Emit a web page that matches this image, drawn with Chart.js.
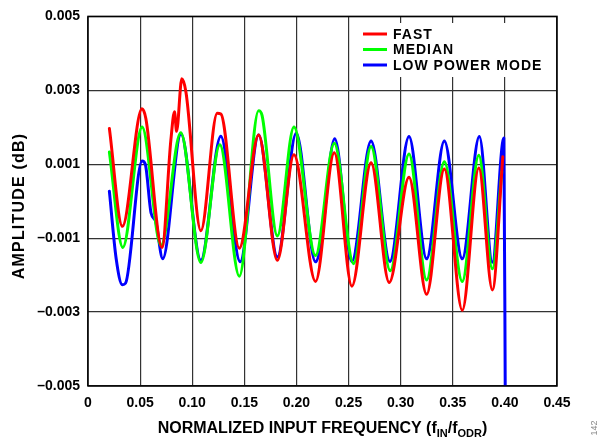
<!DOCTYPE html>
<html>
<head>
<meta charset="utf-8">
<script src="https://cdn.jsdelivr.net/npm/chart.js@4.4.1/dist/chart.umd.min.js"></script>
<style>
  html, body { margin: 0; padding: 0; background: #fff; }
  #wrap { width: 599px; height: 444px; }
</style>
</head>
<body>
<div id="wrap"><canvas id="ampChart" width="599" height="444"></canvas></div>
<script>
// values
var fastFreq = [0.0205, 0.0330, 0.0518, 0.0555, 0.0710, 0.0795, 0.0830, 0.0850, 0.0900, 0.0940, 0.1083, 0.1240, 0.1275, 0.1452, 0.1637, 0.1817, 0.1976, 0.2183, 0.2363, 0.2532, 0.2716, 0.2890, 0.3080, 0.3249, 0.3419, 0.3591, 0.3750, 0.3880, 0.3980];
var fastAmp  = [0.00197, -0.00068, 0.00250, 0.00224, -0.00125, 0.00165, 0.00242, 0.00189, 0.00331, 0.00295, -0.00080, 0.00238, 0.00236, -0.00127, 0.00179, -0.00160, 0.00126, -0.00217, 0.00131, -0.00230, 0.00104, -0.00220, 0.00065, -0.00252, 0.00087, -0.00295, 0.00090, -0.00240, 0.00120];

var medianFreq = [0.0205, 0.0334, 0.0519, 0.0700, 0.0890, 0.1083, 0.1265, 0.1452, 0.1637, 0.1670, 0.1817, 0.1976, 0.2183, 0.2363, 0.2548, 0.2716, 0.2900, 0.3080, 0.3249, 0.3419, 0.3591, 0.3750, 0.3880, 0.3970];
var medianAmp  = [0.00133, -0.00125, 0.00201, -0.00120, 0.00185, -0.00166, 0.00153, -0.00203, 0.00245, 0.00232, -0.00094, 0.00201, -0.00147, 0.00157, -0.00169, 0.00148, -0.00188, 0.00128, -0.00213, 0.00107, -0.00217, 0.00124, -0.00183, 0.00080];

var lowPowerFreq = [0.0205, 0.0270, 0.0330, 0.0360, 0.0519, 0.0550, 0.0605, 0.0650, 0.0717, 0.0892, 0.1083, 0.1274, 0.1460, 0.1637, 0.1817, 0.1998, 0.2183, 0.2230, 0.2367, 0.2532, 0.2716, 0.2897, 0.3080, 0.3249, 0.3419, 0.3591, 0.3755, 0.3880, 0.3990, 0.4004];
var lowPowerAmp  = [0.00027, -0.00155, -0.00226, -0.00222, 0.00109, 0.00100, -0.00032, -0.00055, -0.00156, 0.00182, -0.00160, 0.00176, -0.00164, 0.00179, -0.00151, 0.00184, -0.00164, -0.00125, 0.00169, -0.00163, 0.00163, -0.00163, 0.00175, -0.00156, 0.00163, -0.00156, 0.00175, -0.00165, 0.00171, -0.00560];

var xTicks = [0, 0.05, 0.10, 0.15, 0.20, 0.25, 0.30, 0.35, 0.40, 0.45];
var yTicks = [-0.005, -0.003, -0.001, 0.001, 0.003, 0.005];

var FONT = '"Liberation Sans", Arial, Helvetica, sans-serif';

function toPoints(xs, ys) {
    var pts = [];
    for (var i = 0; i < xs.length; i++) {
        pts.push({ x: xs[i], y: ys[i] });
    }
    return pts;
}

function makeSet(label, color, xs, ys) {
    return {
        label: label,
        data: toPoints(xs, ys),
        borderColor: color,
        backgroundColor: color,
        borderWidth: 3,
        pointRadius: 0,
        cubicInterpolationMode: 'monotone',
        borderJoinStyle: 'round',
        borderCapStyle: 'round',
        fill: false
    };
}

// frame, legend box, axis titles, figure number
var decor = {
    id: 'decor',
    afterDatasetsDraw: function(chart) {
        var ctx = chart.ctx;
        ctx.save();
        ctx.fillStyle = '#fff';
        ctx.fillRect(352, 23, 202, 54);
        ctx.font = 'bold 14px ' + FONT;
        ctx.letterSpacing = '1px';
        ctx.textBaseline = 'middle';
        ctx.textAlign = 'left';
        var rows = [34, 49.5, 65];
        chart.data.datasets.forEach(function(ds, i) {
            ctx.strokeStyle = ds.borderColor;
            ctx.lineWidth = 3;
            ctx.beginPath();
            ctx.moveTo(363, rows[i]);
            ctx.lineTo(387, rows[i]);
            ctx.stroke();
            ctx.fillStyle = '#000';
            ctx.fillText(ds.label, 393, rows[i] + 1);
        });
        ctx.restore();
    },
    afterDraw: function(chart) {
        var ctx = chart.ctx;
        var a = chart.chartArea;
        ctx.save();
        ctx.strokeStyle = '#000';
        ctx.lineWidth = 1.5;
        ctx.strokeRect(a.left, a.top, a.right - a.left, a.bottom - a.top);

        // x title with subscripts
        var parts = [
            ['NORMALIZED INPUT FREQUENCY (f', false],
            ['IN', true],
            ['/f', false],
            ['ODR', true],
            [')', false]
        ];
        var big = 'bold 16px ' + FONT, small = 'bold 11px ' + FONT;
        var total = 0;
        parts.forEach(function(p) {
            ctx.font = p[1] ? small : big;
            total += ctx.measureText(p[0]).width;
        });
        var x = (a.left + a.right) / 2 - total / 2;
        ctx.fillStyle = '#000';
        ctx.textBaseline = 'alphabetic';
        ctx.textAlign = 'left';
        parts.forEach(function(p) {
            ctx.font = p[1] ? small : big;
            ctx.fillText(p[0], x, p[1] ? 437 : 433);
            x += ctx.measureText(p[0]).width;
        });

        // y title
        ctx.save();
        ctx.translate(20, 206);
        ctx.rotate(-Math.PI / 2);
        ctx.font = 'bold 16px ' + FONT;
        ctx.letterSpacing = '1.2px';
        ctx.textAlign = 'center';
        ctx.textBaseline = 'middle';
        ctx.fillText('AMPLITUDE (dB)', 0, 0);
        ctx.restore();

        // figure number
        ctx.save();
        ctx.translate(595, 428);
        ctx.rotate(-Math.PI / 2);
        ctx.font = '9px ' + FONT;
        ctx.fillStyle = '#888';
        ctx.textAlign = 'center';
        ctx.textBaseline = 'middle';
        ctx.fillText('142', 0, 0);
        ctx.restore();

        ctx.restore();
    }
};

var ctx = document.getElementById('ampChart').getContext('2d');
var ampChart = new Chart(ctx, {
    type: 'line',
    data: {
        datasets: [
            makeSet('FAST', '#ff0000', fastFreq, fastAmp),
            makeSet('MEDIAN', '#00ff00', medianFreq, medianAmp),
            makeSet('LOW POWER MODE', '#0000ff', lowPowerFreq, lowPowerAmp)
        ]
    },
    options: {
        responsive: false,
        animation: false,
        devicePixelRatio: 1,
        layout: { padding: { top: 10, right: 42, left: 0, bottom: 0 } },
        plugins: {
            legend: { display: false },
            tooltip: { enabled: false }
        },
        scales: {
            x: {
                type: 'linear',
                min: 0,
                max: 0.45,
                afterBuildTicks: function(scale) {
                    scale.ticks = xTicks.map(function(v) { return { value: v }; });
                },
                afterFit: function(scale) { scale.height = 58; },
                grid: { color: '#333', lineWidth: 1.2, drawTicks: false },
                border: { display: false },
                ticks: {
                    padding: 9,
                    color: '#000',
                    font: { family: FONT, size: 14, weight: 'bold' },
                    maxRotation: 0,
                    callback: function(v) { return v === 0 ? '0' : v.toFixed(2); }
                }
            },
            y: {
                type: 'linear',
                min: -0.005,
                max: 0.005,
                afterBuildTicks: function(scale) {
                    scale.ticks = yTicks.map(function(v) { return { value: v }; });
                },
                afterFit: function(scale) { scale.width = 88; },
                grid: { color: '#333', lineWidth: 1.2, drawTicks: false },
                border: { display: false },
                ticks: {
                    padding: 8,
                    color: '#000',
                    font: { family: FONT, size: 14, weight: 'bold' },
                    callback: function(v) {
                        var s = Math.abs(v).toFixed(3);
                        return v < 0 ? '\u2013' + s : s;
                    }
                }
            }
        }
    },
    plugins: [decor]
});
</script>
</body>
</html>
